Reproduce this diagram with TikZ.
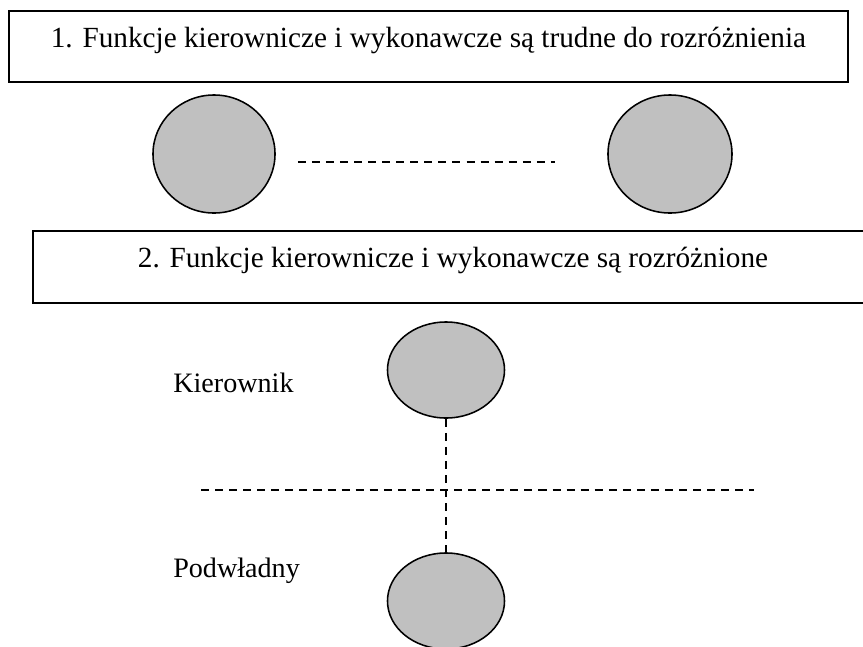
\documentclass[tikz,border=0pt]{standalone}
\usepackage{fontspec}
\setmainfont{Liberation Serif}
\usetikzlibrary{calc,positioning,shapes.geometric}
\definecolor{srebrny}{RGB}{192,192,192}
\tikzset{
  napis/.style={font=\fontsize{20.8}{25}\selectfont},
  ramka/.style={
    rectangle,
    draw=black, line width=1.5pt,
    inner sep=0pt,
    napis},
  kolo/.style={
    ellipse,
    draw=black, line width=1.1pt,
    fill=srebrny,
    inner sep=0pt},
  kreska/.style={draw, line width=1.1pt, dash pattern=on 5.7pt off 4.3pt},
  opis/.style={anchor=base west, inner sep=0pt, font=\fontsize{20}{24}\selectfont},
}

\begin{document}
\begin{tikzpicture}[x=0.025cm, y=-0.025cm]

    \useasboundingbox (0,0) rectangle (863,646);
    \clip (0,0) rectangle (863,646);

    % model 1
    \node[ramka, minimum width=20.975cm, minimum height=1.775cm,
          text height=0.9cm, text depth=0.875cm] (ramka1) at (428.5,46.5)
        {1. Funkcje kierownicze i wykonawcze są trudne do rozróżnienia};

    \node[kolo, minimum width=3.05cm, minimum height=2.95cm] (lewe) at (214,154) {};
    \node[kolo, minimum width=3.1cm, minimum height=2.95cm] (prawe) at (670,154) {};
    \draw[kreska] ($(lewe.east)+(22,8)$) -- ($(prawe.west)+(-52,8)$);

    % model 2
    \node[ramka, minimum width=21cm, minimum height=1.8cm,
          text height=0.9cm, text depth=0.9cm] (ramka2) at (453,267)
        {2. Funkcje kierownicze i wykonawcze są rozróżnione};

    \node[kolo, minimum width=2.925cm, minimum height=2.4cm] (kier) at (446,370) {};
    \node[kolo, minimum width=2.925cm, minimum height=2.4cm] (podw) at (446,601) {};
    \draw[kreska] (kier) -- (podw);

    \coordinate (granica l) at (201,490);
    \coordinate (granica p) at (754,490);
    \draw[kreska] (granica l) -- (granica p);

    \node[opis] (kier opis) at (173,392) {Kierownik};
    \node[opis] (podw opis) at (173,577) {Podwładny};
  \end{tikzpicture}
\end{document}
